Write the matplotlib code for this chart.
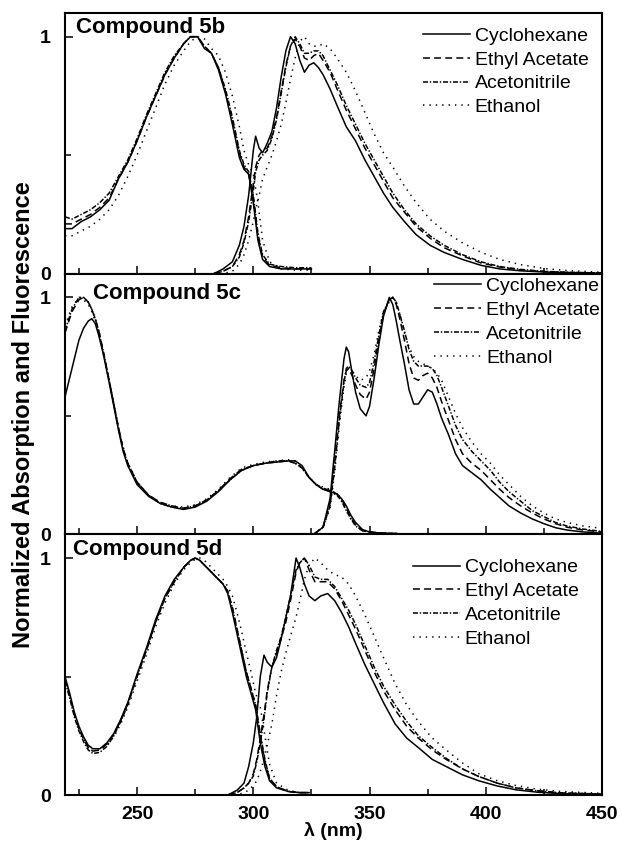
import matplotlib
matplotlib.use("Agg")
import matplotlib.pyplot as plt
from matplotlib.ticker import MultipleLocator, FixedLocator

plt.rcParams['font.family'] = ['Liberation Sans', 'DejaVu Sans']
plt.rcParams['lines.scale_dashes'] = False

solvents = ["Cyclohexane", "Ethyl Acetate", "Acetonitrile", "Ethanol"]
titles = ["Compound 5b", "Compound 5c", "Compound 5d"]
x_ticks = [250, 300, 350, 400, 450]

# ---------------- Compound 5b ----------------
b_abs_x = [219, 222, 226, 230, 234, 238, 242, 246, 250, 254, 258, 262, 266, 270, 273, 276, 279, 282, 285, 288,
           291, 294, 296, 298, 300, 302, 304, 307, 312, 318, 325]
b_abs_cyc = [0.19, 0.19, 0.22, 0.24, 0.27, 0.31, 0.40, 0.47, 0.56, 0.66, 0.75, 0.84, 0.91, 0.97, 1.00, 1.00, 0.95,
             0.93, 0.86, 0.76, 0.63, 0.49, 0.44, 0.42, 0.30, 0.14, 0.06, 0.03, 0.02, 0.02, 0.02]
b_abs_eta = [0.21, 0.21, 0.23, 0.25, 0.28, 0.32, 0.40, 0.47, 0.56, 0.66, 0.75, 0.84, 0.91, 0.97, 1.00, 1.00, 0.96,
             0.93, 0.87, 0.77, 0.65, 0.51, 0.45, 0.42, 0.32, 0.16, 0.07, 0.035, 0.025, 0.02, 0.02]
b_abs_acn = [0.24, 0.23, 0.25, 0.27, 0.30, 0.34, 0.41, 0.48, 0.57, 0.67, 0.76, 0.85, 0.92, 0.97, 1.00, 1.00, 0.96,
             0.93, 0.87, 0.78, 0.66, 0.52, 0.46, 0.43, 0.33, 0.17, 0.08, 0.04, 0.03, 0.025, 0.025]
b_abs_eth = [0.16, 0.16, 0.18, 0.20, 0.23, 0.27, 0.33, 0.41, 0.50, 0.60, 0.70, 0.80, 0.88, 0.94, 0.98, 1.00, 0.99,
             0.95, 0.92, 0.85, 0.75, 0.62, 0.52, 0.46, 0.42, 0.30, 0.14, 0.05, 0.02, 0.015, 0.015]

b_fl_x = [283, 287, 291, 294, 296, 298, 300, 301, 302.5, 304, 306, 308, 310, 312, 314, 316, 318, 320, 322, 324,
          326, 328, 330, 333, 336, 340, 344, 348, 352, 356, 360, 365, 370, 376, 382, 390, 398, 406, 415, 425, 435, 450]
b_fl_cyc = [0, 0.02, 0.05, 0.12, 0.20, 0.33, 0.52, 0.58, 0.53, 0.51, 0.55, 0.60, 0.70, 0.83, 0.94, 1.00, 0.97, 0.90,
            0.85, 0.88, 0.89, 0.87, 0.84, 0.78, 0.71, 0.62, 0.56, 0.48, 0.41, 0.34, 0.28, 0.22, 0.165, 0.12, 0.09,
            0.06, 0.035, 0.02, 0.012, 0.007, 0.004, 0.002]
b_fl_eta = [0, 0.01, 0.03, 0.08, 0.14, 0.24, 0.38, 0.45, 0.50, 0.52, 0.53, 0.58, 0.66, 0.77, 0.88, 0.96, 0.99, 0.96,
            0.91, 0.90, 0.92, 0.93, 0.90, 0.85, 0.78, 0.69, 0.61, 0.53, 0.46, 0.39, 0.32, 0.26, 0.20, 0.15, 0.11,
            0.075, 0.045, 0.028, 0.016, 0.009, 0.005, 0.003]
b_fl_acn = [0, 0.01, 0.03, 0.07, 0.13, 0.22, 0.35, 0.43, 0.48, 0.50, 0.52, 0.57, 0.65, 0.76, 0.87, 0.96, 1.00, 0.97,
            0.93, 0.93, 0.94, 0.94, 0.92, 0.86, 0.80, 0.71, 0.63, 0.55, 0.48, 0.41, 0.34, 0.27, 0.21, 0.16, 0.12,
            0.08, 0.05, 0.03, 0.018, 0.01, 0.006, 0.003]
b_fl_eth = [0, 0, 0.01, 0.04, 0.08, 0.14, 0.22, 0.27, 0.33, 0.40, 0.45, 0.50, 0.56, 0.63, 0.72, 0.82, 0.91, 0.98,
            1.00, 0.97, 0.96, 0.96, 0.97, 0.95, 0.91, 0.85, 0.77, 0.68, 0.59, 0.51, 0.45, 0.37, 0.30, 0.23, 0.18,
            0.13, 0.09, 0.06, 0.038, 0.022, 0.013, 0.006]

# ---------------- Compound 5c ----------------
c_abs_x = [219, 222, 225, 227, 229, 230.5, 232, 233.5, 235.5, 238, 240, 242, 244, 246, 250, 255, 260, 265, 270, 275,
           280, 285, 290, 295, 300, 305, 310, 315, 318, 321, 324, 327, 330, 333, 336, 338, 340, 342, 344, 347, 350,
           355, 362]
c_abs_cyc = [0.58, 0.70, 0.82, 0.87, 0.90, 0.91, 0.89, 0.84, 0.76, 0.64, 0.54, 0.44, 0.35, 0.29, 0.21, 0.16, 0.13,
             0.115, 0.105, 0.115, 0.14, 0.18, 0.23, 0.27, 0.29, 0.30, 0.305, 0.31, 0.31, 0.29, 0.24, 0.21, 0.19,
             0.18, 0.17, 0.15, 0.12, 0.08, 0.05, 0.02, 0.01, 0.005, 0.003]
c_abs_eta = [0.85, 0.94, 0.99, 1.00, 0.98, 0.95, 0.91, 0.86, 0.77, 0.65, 0.55, 0.45, 0.36, 0.30, 0.22, 0.165, 0.135,
             0.12, 0.11, 0.12, 0.145, 0.185, 0.235, 0.275, 0.29, 0.30, 0.31, 0.31, 0.30, 0.28, 0.24, 0.21, 0.195,
             0.185, 0.17, 0.15, 0.11, 0.07, 0.04, 0.015, 0.01, 0.005, 0.003]
c_abs_acn = [0.86, 0.95, 1.00, 1.00, 0.98, 0.95, 0.91, 0.86, 0.77, 0.65, 0.55, 0.45, 0.36, 0.30, 0.22, 0.165, 0.13,
             0.115, 0.11, 0.12, 0.145, 0.185, 0.23, 0.27, 0.29, 0.30, 0.305, 0.31, 0.30, 0.28, 0.24, 0.21, 0.19,
             0.18, 0.165, 0.14, 0.10, 0.065, 0.035, 0.015, 0.01, 0.005, 0.003]
c_abs_eth = [0.88, 0.96, 1.00, 0.99, 0.97, 0.94, 0.90, 0.85, 0.76, 0.65, 0.55, 0.45, 0.37, 0.30, 0.22, 0.165, 0.135,
             0.12, 0.115, 0.125, 0.15, 0.19, 0.24, 0.28, 0.295, 0.305, 0.31, 0.315, 0.31, 0.28, 0.24, 0.21, 0.20,
             0.19, 0.17, 0.14, 0.10, 0.065, 0.04, 0.015, 0.01, 0.005, 0.003]

c_fl_x = [326, 330, 333, 335, 337, 339, 340, 341, 342.5, 344, 346, 348.5, 350, 352, 354, 356, 358.5, 360, 361.5, 363,
          365, 367, 369, 371, 373, 375, 377, 379, 381, 384, 387, 390, 394, 398, 402, 406, 410, 415, 420, 425, 430,
          435, 442, 450]
c_fl_cyc = [0, 0.03, 0.15, 0.35, 0.56, 0.74, 0.79, 0.77, 0.68, 0.60, 0.53, 0.50, 0.54, 0.66, 0.80, 0.92, 1.00, 0.97,
            0.90, 0.82, 0.72, 0.61, 0.55, 0.55, 0.58, 0.61, 0.60, 0.55, 0.49, 0.42, 0.34, 0.29, 0.26, 0.23, 0.19,
            0.155, 0.12, 0.09, 0.065, 0.045, 0.028, 0.018, 0.01, 0.005]
c_fl_eta = [0, 0.03, 0.13, 0.30, 0.50, 0.65, 0.69, 0.70, 0.67, 0.63, 0.59, 0.57, 0.60, 0.70, 0.82, 0.93, 0.99, 1.00,
            0.97, 0.91, 0.82, 0.72, 0.66, 0.65, 0.67, 0.68, 0.66, 0.62, 0.56, 0.48, 0.40, 0.34, 0.30, 0.27, 0.23,
            0.19, 0.155, 0.12, 0.09, 0.065, 0.045, 0.03, 0.018, 0.01]
c_fl_acn = [0, 0.03, 0.12, 0.28, 0.48, 0.64, 0.70, 0.71, 0.69, 0.66, 0.63, 0.62, 0.64, 0.73, 0.84, 0.94, 0.99, 1.00,
            0.98, 0.93, 0.86, 0.78, 0.73, 0.71, 0.71, 0.71, 0.70, 0.67, 0.62, 0.54, 0.46, 0.40, 0.35, 0.31, 0.27,
            0.22, 0.18, 0.14, 0.10, 0.075, 0.05, 0.035, 0.022, 0.012]
c_fl_eth = [0, 0.03, 0.11, 0.26, 0.46, 0.62, 0.68, 0.70, 0.69, 0.67, 0.65, 0.66, 0.69, 0.76, 0.86, 0.94, 0.98, 1.00,
            0.98, 0.93, 0.85, 0.79, 0.75, 0.73, 0.72, 0.71, 0.70, 0.68, 0.65, 0.58, 0.51, 0.45, 0.39, 0.34, 0.30,
            0.25, 0.21, 0.16, 0.12, 0.09, 0.065, 0.05, 0.035, 0.025]

# ---------------- Compound 5d ----------------
d_abs_x = [219, 221, 223, 225, 227, 229, 231, 234, 237, 240, 243, 246, 250, 254, 258, 262, 266, 270, 273, 275, 277,
           279, 281, 283, 285, 287, 289, 291, 293, 295, 297, 299, 301, 303, 305, 307, 310, 315, 320, 324]
d_abs_cyc = [0.50, 0.43, 0.35, 0.29, 0.245, 0.21, 0.195, 0.195, 0.22, 0.26, 0.32, 0.39, 0.51, 0.62, 0.74, 0.84,
             0.91, 0.96, 0.99, 1.00, 0.99, 0.97, 0.95, 0.93, 0.91, 0.89, 0.85, 0.77, 0.68, 0.59, 0.50, 0.43, 0.36,
             0.22, 0.12, 0.06, 0.03, 0.015, 0.01, 0.01]
d_abs_eta = [0.49, 0.42, 0.34, 0.28, 0.235, 0.20, 0.185, 0.19, 0.215, 0.255, 0.315, 0.385, 0.50, 0.61, 0.73, 0.83,
             0.90, 0.96, 0.99, 1.00, 0.99, 0.97, 0.95, 0.93, 0.91, 0.89, 0.86, 0.79, 0.70, 0.61, 0.52, 0.45, 0.38,
             0.25, 0.14, 0.07, 0.035, 0.015, 0.01, 0.01]
d_abs_acn = [0.48, 0.41, 0.33, 0.27, 0.225, 0.19, 0.175, 0.18, 0.205, 0.25, 0.31, 0.38, 0.50, 0.61, 0.73, 0.83,
             0.90, 0.96, 0.99, 1.00, 0.99, 0.97, 0.95, 0.93, 0.91, 0.89, 0.86, 0.79, 0.70, 0.61, 0.52, 0.45, 0.38,
             0.26, 0.15, 0.07, 0.035, 0.015, 0.01, 0.01]
d_abs_eth = [0.49, 0.42, 0.34, 0.28, 0.235, 0.20, 0.185, 0.19, 0.21, 0.245, 0.30, 0.37, 0.48, 0.59, 0.71, 0.81,
             0.89, 0.95, 0.98, 0.995, 1.00, 0.99, 0.97, 0.95, 0.93, 0.91, 0.88, 0.84, 0.77, 0.69, 0.60, 0.52, 0.43,
             0.37, 0.25, 0.13, 0.05, 0.02, 0.01, 0.01]

d_fl_x = [289, 293, 296, 298, 300, 301.5, 303, 304.6, 306, 308, 310, 312, 314, 316, 318.4, 320, 322, 324, 326.5, 329,
          332, 335, 338, 341, 344, 348, 352, 356, 361, 366, 371, 377, 383, 390, 397, 405, 413, 422, 432, 450]
d_fl_cyc = [0, 0.02, 0.05, 0.12, 0.22, 0.33, 0.50, 0.59, 0.56, 0.54, 0.58, 0.66, 0.75, 0.84, 1.00, 0.96, 0.89, 0.84,
            0.82, 0.84, 0.85, 0.82, 0.77, 0.71, 0.64, 0.55, 0.47, 0.39, 0.30, 0.24, 0.20, 0.15, 0.12, 0.085, 0.06,
            0.038, 0.022, 0.012, 0.006, 0.002]
d_fl_eta = [0, 0.01, 0.03, 0.05, 0.09, 0.15, 0.24, 0.34, 0.44, 0.54, 0.60, 0.66, 0.73, 0.82, 0.94, 0.98, 1.00, 0.95,
            0.90, 0.90, 0.90, 0.87, 0.82, 0.76, 0.70, 0.61, 0.52, 0.44, 0.36, 0.29, 0.24, 0.19, 0.15, 0.11, 0.078,
            0.05, 0.03, 0.018, 0.009, 0.004]
d_fl_acn = [0, 0.01, 0.03, 0.05, 0.08, 0.14, 0.22, 0.32, 0.43, 0.54, 0.61, 0.67, 0.75, 0.84, 0.95, 0.98, 1.00, 0.97,
            0.92, 0.91, 0.91, 0.88, 0.83, 0.78, 0.72, 0.63, 0.54, 0.46, 0.38, 0.31, 0.25, 0.20, 0.155, 0.11, 0.078,
            0.05, 0.03, 0.018, 0.009, 0.004]
d_fl_eth = [0, 0, 0.01, 0.02, 0.04, 0.06, 0.10, 0.15, 0.21, 0.30, 0.42, 0.52, 0.60, 0.67, 0.75, 0.82, 0.91, 0.97,
            1.00, 0.98, 0.95, 0.93, 0.92, 0.89, 0.84, 0.76, 0.67, 0.58, 0.47, 0.38, 0.31, 0.24, 0.19, 0.135, 0.09,
            0.06, 0.04, 0.025, 0.015, 0.007]

panels = [
    (b_abs_x, [b_abs_cyc, b_abs_eta, b_abs_acn, b_abs_eth], b_fl_x, [b_fl_cyc, b_fl_eta, b_fl_acn, b_fl_eth]),
    (c_abs_x, [c_abs_cyc, c_abs_eta, c_abs_acn, c_abs_eth], c_fl_x, [c_fl_cyc, c_fl_eta, c_fl_acn, c_fl_eth]),
    (d_abs_x, [d_abs_cyc, d_abs_eta, d_abs_acn, d_abs_eth], d_fl_x, [d_fl_cyc, d_fl_eta, d_fl_acn, d_fl_eth]),
]

styles = [
    dict(linestyle='-'),
    dict(linestyle=(0, (5.0, 3.0))),
    dict(linestyle=(0, (3.6, 1.3, 1.0, 1.3))),
    dict(linestyle=(0, (1.0, 3.6))),
]
LW = 1.1

W, H = 622, 843
fig = plt.figure(figsize=(W / 100, H / 100), dpi=100)
ax_left = 65 / W
ax_width = (602 - 65) / W
ax_top_px, ax_bot_px = 13, 795
ph = (ax_bot_px - ax_top_px) / H / 3

title_pos = [(0.02, 0.945), (0.052, 0.925), (0.015, 0.94)]
leg_pos = [(0.667, 0.946), (0.688, 0.985), (0.648, 0.906)]

axes = []
for i, (ax_x, abs_list, fl_x, fl_list) in enumerate(panels):
    y0 = 1 - ax_top_px / H - (i + 1) * ph
    ax = fig.add_axes([ax_left, y0, ax_width, ph])
    axes.append(ax)
    handles = []
    for k in range(4):
        h, = ax.plot(ax_x, abs_list[k], color='black', lw=LW, **styles[k])
        ax.plot(fl_x, fl_list[k], color='black', lw=LW, **styles[k])
        handles.append(h)
    ax.set_xlim(219, 450)
    ax.set_ylim(0, 1.10)
    ax.xaxis.set_major_locator(FixedLocator(x_ticks))
    ax.xaxis.set_minor_locator(MultipleLocator(25))
    ax.yaxis.set_major_locator(FixedLocator([0, 1]))
    ax.yaxis.set_minor_locator(FixedLocator([0.5]))
    ax.tick_params(which='both', direction='in', top=False, right=False)
    ax.tick_params(which='major', length=6, width=1.1)
    ax.tick_params(which='minor', length=4, width=1.1)
    ax.tick_params(axis='y', labelsize=14, pad=10)
    ax.tick_params(axis='x', labelsize=14, pad=8)
    for lab in ax.get_yticklabels():
        lab.set_fontweight('bold')
    if i < 2:
        ax.tick_params(axis='x', labelbottom=False)
    else:
        for lab in ax.get_xticklabels():
            lab.set_fontweight('bold')
        ax.set_xlabel('λ (nm)', fontsize=14, fontweight='bold', labelpad=-1)
    for s in ax.spines.values():
        s.set_linewidth(1.5)
    ax.text(title_pos[i][0], title_pos[i][1], titles[i], transform=ax.transAxes,
            fontsize=16, fontweight='bold', va='center', ha='left')
    ax.legend(handles, solvents, loc='upper left', bbox_to_anchor=leg_pos[i], frameon=False,
              fontsize=14, handlelength=2.4, handletextpad=0.25, labelspacing=0.32,
              borderpad=0, borderaxespad=0)

fig.text(0.038, 0.508, 'Normalized Absorption and Fluorescence', rotation=90, fontsize=17,
         fontweight='bold', ha='center', va='center')

fig.savefig('out.png', dpi=100)
